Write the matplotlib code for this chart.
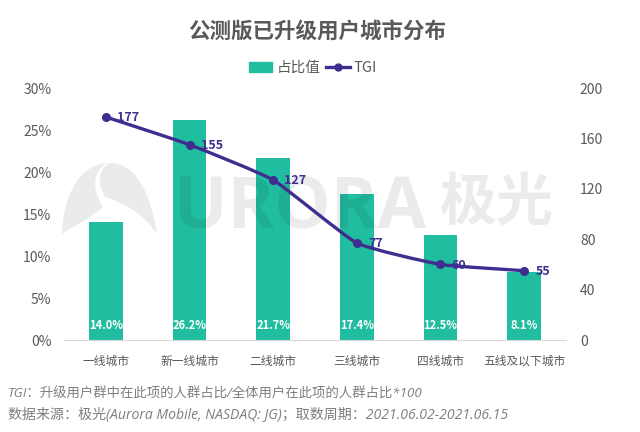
import matplotlib
matplotlib.use("Agg")
import matplotlib.pyplot as plt
from matplotlib.patches import Patch, PathPatch
from matplotlib.path import Path
from matplotlib.lines import Line2D

plt.rcParams['font.family'] = ['Noto Sans CJK SC', 'DejaVu Sans']

categories = ['一线城市', '新一线城市', '二线城市', '三线城市', '四线城市', '五线及以下城市']
share = [14.0, 26.2, 21.7, 17.4, 12.5, 8.1]
tgi = [177, 155, 127, 77, 60, 55]
share_ticks = [0, 5, 10, 15, 20, 25, 30]
tgi_ticks = [0, 40, 80, 120, 160, 200]

TEAL = '#21BDA0'
PURPLE = '#3F2E8F'
GREY = '#595959'
WM = (0, 0, 0, 0.08)
W, H = 640, 432

fig = plt.figure(figsize=(6.4, 4.32), dpi=100, facecolor='white')
ax = fig.add_axes([64/W, 1-340/H, 502/W, 252/H])
ax2 = ax.twinx()
ax.set_zorder(1)
ax2.set_zorder(3)
ax.patch.set_visible(False)
ax2.patch.set_visible(False)

# watermark layer, over the bars and under the line
wm = fig.add_axes([0, 0, 1, 1], zorder=2)
wm.set_xlim(0, W); wm.set_ylim(H, 0); wm.axis('off')


def blob(pts):
    codes = [Path.MOVETO] + [Path.CURVE4] * (len(pts) - 1)
    return Path(pts, codes)


right_piece = [(110, 163), (130, 163), (140, 180), (147, 195),
               (152, 210), (156, 225), (157, 234),
               (148, 222), (138, 208), (105, 197),
               (98, 185), (96, 170), (110, 163)]
left_piece = [(62, 234), (62, 205), (75, 165), (107, 163),
              (92, 172), (92, 190), (103, 207),
              (88, 220), (75, 225), (62, 234)]
wm.add_patch(PathPatch(blob(right_piece), fc=WM, ec='none'))
wm.add_patch(PathPatch(blob(left_piece), fc=WM, ec='none'))
wm.text(174, 228, 'URORA', fontsize=51, color=WM, fontweight='bold',
        family=['Open Sans', 'DejaVu Sans'], va='baseline')
wm.text(497, 203, '极光', fontsize=41, color=WM, fontweight='bold', ha='center', va='center')

x = list(range(len(categories)))
ax.bar(x, share, width=0.4, color=TEAL, zorder=2)
ax.set_xlim(-0.5, 5.5)
ax.set_ylim(0, 30)
ax.set_yticks(share_ticks, [f'{t}%' for t in share_ticks])
ax.set_xticks(x, categories)
ax2.set_ylim(0, 200)
ax2.set_yticks(tgi_ticks, [str(t) for t in tgi_ticks])

# lightly smoothed line through the TGI values
verts = [(x[0], tgi[0])]
codes = [Path.MOVETO]
n = len(x)
K = 14
for i in range(n - 1):
    p0 = (x[max(i - 1, 0)], tgi[max(i - 1, 0)])
    p1 = (x[i], tgi[i])
    p2 = (x[i + 1], tgi[i + 1])
    p3 = (x[min(i + 2, n - 1)], tgi[min(i + 2, n - 1)])
    verts += [(p1[0] + (p2[0] - p0[0]) / K, p1[1] + (p2[1] - p0[1]) / K),
              (p2[0] - (p3[0] - p1[0]) / K, p2[1] - (p3[1] - p1[1]) / K),
              p2]
    codes += [Path.CURVE4] * 3
ax2.add_patch(PathPatch(Path(verts, codes), fc='none', ec=PURPLE, lw=2.4, zorder=3))
ax2.plot(x, tgi, ls='none', color=PURPLE, marker='o', ms=5.5, zorder=4)

for a in (ax, ax2):
    for s in a.spines.values():
        s.set_visible(False)
    a.tick_params(length=0, colors=GREY)
ax.spines['bottom'].set_visible(True)
ax.spines['bottom'].set_color('#D9D9D9')
ax.tick_params(axis='y', labelsize=10, pad=9)
ax.tick_params(axis='x', labelsize=8.5, pad=10.5)
ax2.tick_params(axis='y', labelsize=10, pad=10)

for xi, v in zip(x, share):
    ax.text(xi, 1.7, f'{v:.1f}%', color='white', fontsize=8, fontweight='bold',
            ha='center', va='center', zorder=4)
for xi, v in zip(x, tgi):
    ax2.annotate(str(v), (xi, v), xytext=(8, -0.5), textcoords='offset points', color=PURPLE,
                 fontsize=9, fontweight='bold', ha='left', va='center', zorder=5)

fig.text(317/W, 1-32/H, '公测版已升级用户城市分布', fontsize=15.5, fontweight='heavy',
         color=GREY, ha='center', va='center')
handles = [Patch(color=TEAL), Line2D([], [], color=PURPLE, lw=2.4, marker='o', ms=5)]
fig.legend(handles, ['占比值', 'TGI'], loc='center', bbox_to_anchor=(313/W, 1-68/H), ncol=2,
           frameon=False, fontsize=10.5, labelcolor=GREY, handlelength=1.6, handletextpad=0.3,
           columnspacing=0.4)

foot = ['Open Sans', 'Noto Sans CJK SC', 'DejaVu Sans']
fig.text(8/W, 1-394/H, 'TGI：升级用户群中在此项的人群占比/全体用户在此项的人群占比*100',
         fontsize=9.65, style='italic', color='#7F7F7F', va='center', family=foot)
fig.text(8/W, 1-416/H, '数据来源：极光(Aurora Mobile, NASDAQ: JG)；取数周期：2021.06.02-2021.06.15',
         fontsize=10.1, style='italic', color='#7F7F7F', va='center', family=foot)

fig.savefig('out.png', dpi=100)
